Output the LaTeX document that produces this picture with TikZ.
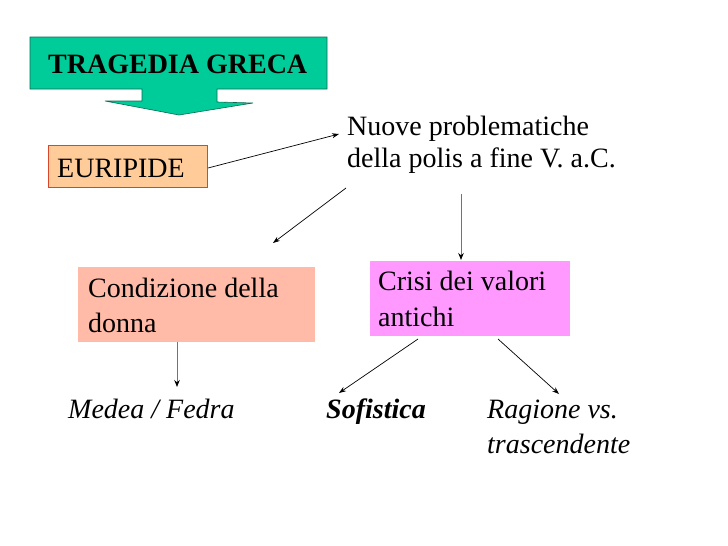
\documentclass[tikz,border=0pt]{standalone}
\usepackage{fontspec}
\setmainfont{Liberation Serif}
\usetikzlibrary{arrows.meta}
\definecolor{tealfill}{HTML}{00CC99}
\definecolor{tealline}{HTML}{0B6B55}
\definecolor{peach}{HTML}{FFCC99}
\definecolor{peachline}{HTML}{D9472B}
\definecolor{salmon}{HTML}{FFBBA8}
\definecolor{violetfill}{HTML}{FF99FF}
\newcommand{\mytwolines}[3]{\vtop{\baselineskip=#1pt\hbox{#2}\hbox{#3}}}
\tikzset{
  txt/.style={anchor=base west, inner sep=0pt, font=\fontsize{28}{32}\selectfont},
  boxnode/.style={draw=none, inner sep=0pt, anchor=north west},
  conn/.style={line width=0.7pt, -{Stealth[length=7pt,width=5pt]}},
  vconn/.style={line width=0.9pt, draw=black!55, -{Stealth[length=7pt,width=5.5pt,color=black]}}
}
\begin{document}
\begin{tikzpicture}[x=1pt,y=-1pt]
\useasboundingbox[fill=white] (0,0) rectangle (728,546);
% green title arrow
\draw[fill=tealfill, draw=tealline, line width=0.6pt]
  (30,37) -- (327,37) -- (327,89) -- (217,89) -- (217,102) -- (253,103)
  -- (179,115) -- (105,101) -- (142,101) -- (142,89) -- (30,89) -- cycle;
\node[txt, font=\fontsize{28}{32}\selectfont\bfseries] (title) at (48,73) {TRAGEDIA GRECA};
% boxes
\node[boxnode, fill=peach, draw=peachline, line width=0.6pt, minimum width=159pt, minimum height=42pt] (eurbox) at (48,145) {};
\node[boxnode, fill=salmon, minimum width=237pt, minimum height=75pt] (condbox) at (78,267) {};
\node[boxnode, fill=violetfill, minimum width=200pt, minimum height=75pt] (crisibox) at (370,261) {};
% texts
\node[txt] (eur) at (57,177) {EURIPIDE};
\node[txt] (nuove) at (347,135) {\mytwolines{32}{Nuove problematiche}{della polis a fine V. a.C.}};
\node[txt] (cond) at (88,297) {\mytwolines{35}{Condizione della}{donna}};
\node[txt] (crisi) at (378,290) {\mytwolines{36}{Crisi dei valori}{antichi}};
\node[txt, font=\fontsize{28}{32}\selectfont\itshape] (medea) at (68,418) {Medea / Fedra};
\node[txt, font=\fontsize{28}{32}\selectfont\bfseries\itshape] (sof) at (326,418) {Sofistica};
\node[txt, font=\fontsize{28}{32}\selectfont\itshape] (rag) at (487,418) {\mytwolines{35}{Ragione vs.}{trascendente}};
% connector end points
\coordinate (e1) at (208,168);
\coordinate (n1) at (339,134);
\coordinate (n2) at (346,188);
\coordinate (c1) at (273,243);
\coordinate (n3) at (461,194);
\coordinate (cr1) at (461,260);
\coordinate (cd1) at (177,342);
\coordinate (m1) at (177,387);
\coordinate (cr2) at (418,339);
\coordinate (s1) at (339,393);
\coordinate (cr3) at (498,339);
\coordinate (r1) at (559,394);
% connectors
\draw[conn] (e1) -- (n1);
\draw[conn] (n2) -- (c1);
\draw[vconn] (n3) -- (cr1);
\draw[vconn] (cd1) -- (m1);
\draw[conn] (cr2) -- (s1);
\draw[conn] (cr3) -- (r1);
\end{tikzpicture}
\end{document}
